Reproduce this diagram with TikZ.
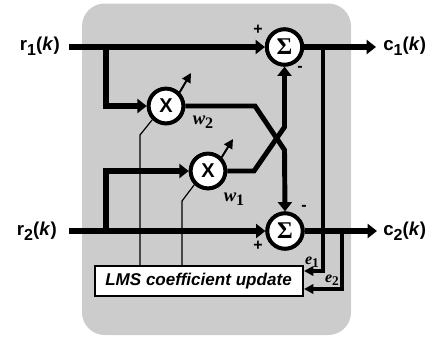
\documentclass[tikz,border=0pt]{standalone}
\usepackage{fontspec}
\setmainfont{Liberation Sans}
\newfontfamily\serifb{Liberation Serif}
\usetikzlibrary{arrows.meta}
\newcommand{\subfs}{\fontsize{12}{12}\selectfont}
\tikzset{
  x=0.75pt,y=-0.75pt,
  sumnode/.style={circle,draw=black,fill=white,line width=2.9pt,minimum size=26.5pt,inner sep=0pt,font=\serifb\bfseries\fontsize{18}{18}\selectfont},
  mulnode/.style={circle,draw=black,fill=white,line width=2.9pt,minimum size=26pt,inner sep=0pt,font=\bfseries\fontsize{15}{15}\selectfont},
  lmsbox/.style={draw=black,fill=white,line width=1.5pt,minimum width=156pt,minimum height=22.5pt,inner sep=0pt,font=\bfseries\itshape\fontsize{12.8}{14}\selectfont},
  heavyarrow/.style={line width=3.8pt,-{Triangle[length=7pt,width=10.5pt]}},
  midarrow/.style={line width=3.7pt,-{Triangle[length=7pt,width=10.5pt]}},
  adjarrow/.style={line width=1.5pt,-{Triangle[length=7pt,width=7pt]}},
  erroarrow/.style={line width=2.5pt,-{Triangle[length=7pt,width=7pt]}},
  thinline/.style={line width=0.9pt},
  sig/.style={font=\bfseries\fontsize{14}{16}\selectfont,inner sep=0pt},
  wlab/.style={font=\serifb\bfseries\itshape\fontsize{14}{14}\selectfont,inner sep=0pt},
  elab/.style={font=\serifb\bfseries\itshape\fontsize{12}{12}\selectfont,inner sep=0pt},
  signlab/.style={font=\bfseries\fontsize{12}{12}\selectfont,inner sep=0pt},
}
\begin{document}
\begin{tikzpicture}
\useasboundingbox (0,0) rectangle (433,337);
\fill[black!20,rounded corners=17pt] (82,3.5) rectangle (351,335);
% nodes
\node[mulnode] (m1) at (166,106) {X};
\node[mulnode] (m2) at (208,171) {X};
\node[sumnode] (s1) at (284.5,47) {\char"03A3};
\node[sumnode] (s2) at (285,231) {\char"03A3};
\node[lmsbox] (lms) at (198.5,281) {LMS coefficient update};
\node[sig,anchor=east] (r1) at (60,46) {r\raisebox{-3.5pt}{\subfs 1}(\textit{k})};
\node[sig,anchor=east] (r2) at (57,231) {r\raisebox{-3.5pt}{\subfs 2}(\textit{k})};
\node[sig,anchor=west] (c1) at (383,46) {c\raisebox{-3.5pt}{\subfs 1}(\textit{k})};
\node[sig,anchor=west] (c2) at (383,231) {c\raisebox{-3.5pt}{\subfs 2}(\textit{k})};
\coordinate (r1s) at (69,47);
\coordinate (r2s) at (69,231);
\coordinate (b1) at (106,47);
\coordinate (b2) at (106,231);
\coordinate (c1e) at (376,47);
\coordinate (c2e) at (377,231);
\coordinate (j1) at (323,47);
\coordinate (j2) at (342,231);
\coordinate (a1) at (191,73);
\coordinate (a2) at (233,139);
\coordinate (e1in) at (304,271);
\coordinate (e2in) at (304,289);
\coordinate (k1a) at (255,106);
\coordinate (k1b) at (284.5,150);
\coordinate (k2a) at (254,171);
\coordinate (k2b) at (284.5,127);
\coordinate (t1a) at (140,135);
\coordinate (t1b) at (140,265);
\coordinate (t2a) at (182,201);
\coordinate (t2b) at (182,265);
% signal paths
\draw[heavyarrow] (r1s) -- (s1.west);
\draw[heavyarrow] (b1) |- (m1.west);
\draw[heavyarrow] (r2s) -- (s2.west);
\draw[heavyarrow] (b2) |- (m2.west);
\draw[midarrow] (m1.east) -- (k1a) -- (k1b) -- (s2.north);
\draw[midarrow] (m2.east) -- (k2a) -- (k2b) -- (s1.south);
\draw[heavyarrow] (s1.east) -- (c1e);
\draw[heavyarrow] (s2.east) -- (c2e);
\draw[erroarrow] (j1) |- (e1in);
\draw[erroarrow] (j2) |- (e2in);
\draw[adjarrow] (m1.45) -- (a1);
\draw[adjarrow] (m2.45) -- (a2);
\draw[thinline] (m1.225) -- (t1a) -- (t1b);
\draw[thinline] (m2.225) -- (t2a) -- (t2b);
% redraw nodes on top
\node[mulnode] at (m1) {X};
\node[mulnode] at (m2) {X};
\node[sumnode] at (s1) {\char"03A3};
\node[sumnode] at (s2) {\char"03A3};
\node[wlab] (w2) at (203,122) {w\raisebox{-3pt}{\subfs\upshape 2}};
\node[wlab] (w1) at (234,199) {w\raisebox{-3pt}{\subfs\upshape 1}};
\node[elab] (e1) at (312,262) {e\raisebox{-2.5pt}{\fontsize{10}{10}\selectfont\upshape 1}};
\node[elab] (e2) at (332,280) {e\raisebox{-2.5pt}{\fontsize{10}{10}\selectfont\upshape 2}};
\node[signlab] (p1) at (258,30) {+};
\node[signlab] (p2) at (258,246) {+};
\node[signlab] (n1) at (300,69) {-};
\node[signlab] (n2) at (304,208) {-};
\end{tikzpicture}
\end{document}
